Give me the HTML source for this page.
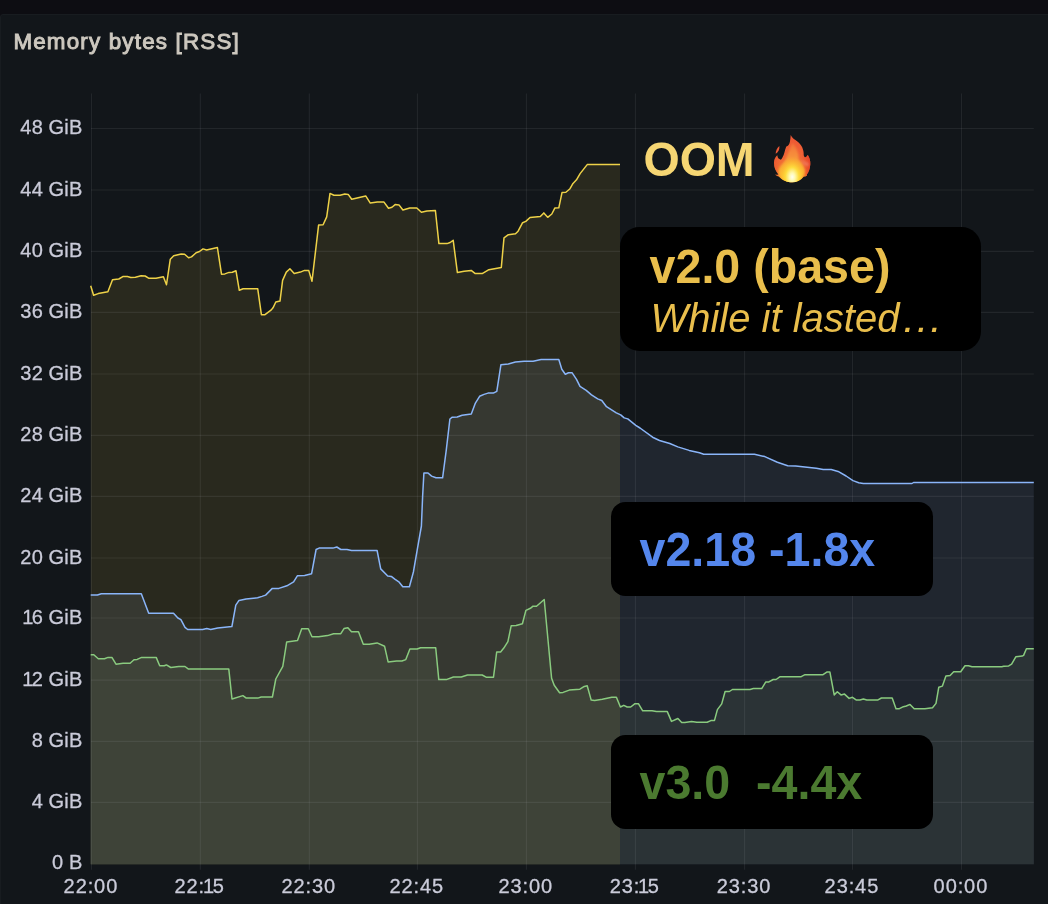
<!DOCTYPE html>
<html lang="en"><head><meta charset="utf-8"><title>Memory bytes [RSS]</title>
<style>
html,body{margin:0;padding:0;}
body{width:1048px;height:904px;overflow:hidden;background:#0d0d12;font-family:"Liberation Sans",sans-serif;position:relative;}
.panel{position:absolute;left:0;top:14px;width:1060px;height:900px;background:#12161a;border:1.2px solid #181c20;border-radius:3px 0 0 0;box-sizing:border-box;}
.chart{position:absolute;left:0;top:0;}
.title{position:absolute;left:13.4px;top:28.3px;font-size:22.4px;line-height:28px;font-weight:normal;color:#cdc8bf;white-space:nowrap;letter-spacing:1.18px;-webkit-text-stroke:0.95px #cdc8bf;}
.yl{position:absolute;right:965.6px;letter-spacing:0.15px;-webkit-text-stroke:0.3px #cacbd9;font-size:20px;line-height:20px;height:20px;color:#cacbd9;white-space:nowrap;text-align:right;}
.xl{position:absolute;top:876px;width:80px;margin-left:-40px;text-align:center;font-size:20px;line-height:20px;color:#cacbd9;white-space:nowrap;letter-spacing:0.9px;-webkit-text-stroke:0.3px #cacbd9;}
.yl .n1{margin:0 -1.8px;}
.xl .n1{margin:0 -2.2px;}
.box{position:absolute;background:#000;box-sizing:border-box;}
.t{position:absolute;white-space:nowrap;font-weight:bold;font-size:46px;line-height:46px;}
.flame{position:absolute;left:762px;top:126px;}
</style></head><body>
<div class="panel"></div>

<svg class="chart" width="1048" height="904" viewBox="0 0 1048 904">
<defs><clipPath id="cl"><rect x="0" y="0" width="620.1" height="904"/></clipPath><clipPath id="cr"><rect x="620.1" y="0" width="428" height="904"/></clipPath></defs>
<polygon points="90.7,864.2 90.7,285.8 93.6,295.3 98.2,293.6 107.9,291.8 112.5,279.8 118.8,279.0 122.8,276.6 127.4,276.6 130.8,277.4 135.4,277.2 141.1,275.8 145.1,276.0 148.6,278.2 156.0,278.2 163.4,276.7 166.5,284.7 170.3,259.2 173.7,255.8 181.2,254.0 184.6,254.3 188.6,257.8 191.5,256.9 196.1,252.7 199.5,251.5 203.0,248.9 206.6,250.0 217.4,247.5 221.5,274.2 224.9,273.9 229.0,272.4 232.3,272.3 236.0,270.8 239.3,290.3 243.1,288.7 257.7,288.7 261.4,314.7 265.0,314.7 271.3,309.9 273.0,307.8 275.8,302.0 280.0,301.1 282.6,280.4 286.3,272.1 289.9,268.8 294.2,273.4 300.4,272.1 304.5,270.4 308.7,270.4 312.0,281.2 318.6,225.1 323.1,224.8 326.7,216.9 330.0,193.4 333.9,195.2 340.1,195.2 344.8,194.1 348.2,194.4 351.7,199.2 365.7,195.9 370.3,203.1 377.3,202.1 384.0,202.1 388.5,208.3 392.0,207.2 395.1,204.6 399.0,204.9 402.9,210.0 409.8,208.0 416.8,208.0 421.4,212.2 426.9,211.1 435.4,210.5 438.9,243.6 447.0,243.6 450.1,242.5 453.2,240.3 457.4,272.6 464.1,271.2 471.2,270.4 475.3,273.6 482.2,273.6 488.9,269.7 501.3,267.4 504.0,237.9 508.4,234.7 515.5,233.8 518.1,231.2 522.6,222.7 525.8,221.4 530.0,217.5 540.3,216.6 543.8,212.9 547.7,217.3 551.8,214.0 554.8,208.1 558.8,207.8 562.0,192.6 565.9,192.2 570.0,188.7 573.0,183.4 576.5,179.8 580.1,173.6 587.2,164.6 620.0,164.6 620.0,864.2" fill="#29291e"/>
<polygon points="90.7,864.2 90.7,595.1 97.4,595.0 101.3,593.7 141.3,593.7 148.7,613.2 173.5,613.2 177.9,618.0 180.9,619.7 185.0,627.3 187.7,629.5 202.7,629.5 206.8,628.6 210.7,629.5 217.7,627.9 231.9,626.5 235.8,605.2 239.0,600.4 246.1,599.0 257.6,597.8 262.0,596.4 265.6,595.1 272.3,588.4 278.9,588.4 286.9,585.8 293.6,581.9 297.5,575.7 304.6,575.5 311.6,573.7 316.1,549.5 319.1,548.1 332.9,548.1 336.8,547.0 340.8,549.5 347.0,549.5 351.5,550.5 377.1,550.5 380.7,568.9 387.7,576.0 391.3,576.4 394.8,579.2 399.2,582.2 402.8,586.7 409.4,586.7 413.4,572.0 417.0,551.2 421.4,526.0 422.6,496.8 423.9,473.0 428.0,473.0 431.6,476.1 436.0,477.8 442.6,477.8 446.2,450.6 449.9,419.0 452.3,417.2 457.2,417.0 462.1,415.3 471.3,414.1 475.4,403.1 479.6,396.3 484.0,394.4 488.0,393.1 493.3,393.1 496.8,391.3 500.9,364.8 508.3,363.9 515.4,362.1 524.2,361.2 533.1,361.2 541.1,359.5 558.8,359.5 561.8,369.2 565.3,374.2 568.5,372.7 572.0,372.7 576.5,379.3 580.0,386.4 586.2,390.4 591.5,394.9 597.7,398.9 601.8,400.5 606.5,406.7 616.3,412.9 620.7,414.9 624.2,417.9 627.8,418.9 635.8,425.3 640.0,428.0 652.6,437.2 659.5,440.5 669.8,443.5 677.8,446.9 689.2,450.4 699.5,452.7 703.7,454.3 754.5,454.3 764.8,456.6 777.4,462.3 787.7,465.7 795.7,465.9 816.3,468.2 823.2,469.6 831.2,469.6 838.1,471.4 846.1,476.0 853.0,480.6 858.7,482.7 863.3,483.5 912.0,483.5 913.5,482.5 1033.8,482.5 1033.8,864.2" fill="#363831" clip-path="url(#cl)"/>
<polygon points="90.7,864.2 90.7,595.1 97.4,595.0 101.3,593.7 141.3,593.7 148.7,613.2 173.5,613.2 177.9,618.0 180.9,619.7 185.0,627.3 187.7,629.5 202.7,629.5 206.8,628.6 210.7,629.5 217.7,627.9 231.9,626.5 235.8,605.2 239.0,600.4 246.1,599.0 257.6,597.8 262.0,596.4 265.6,595.1 272.3,588.4 278.9,588.4 286.9,585.8 293.6,581.9 297.5,575.7 304.6,575.5 311.6,573.7 316.1,549.5 319.1,548.1 332.9,548.1 336.8,547.0 340.8,549.5 347.0,549.5 351.5,550.5 377.1,550.5 380.7,568.9 387.7,576.0 391.3,576.4 394.8,579.2 399.2,582.2 402.8,586.7 409.4,586.7 413.4,572.0 417.0,551.2 421.4,526.0 422.6,496.8 423.9,473.0 428.0,473.0 431.6,476.1 436.0,477.8 442.6,477.8 446.2,450.6 449.9,419.0 452.3,417.2 457.2,417.0 462.1,415.3 471.3,414.1 475.4,403.1 479.6,396.3 484.0,394.4 488.0,393.1 493.3,393.1 496.8,391.3 500.9,364.8 508.3,363.9 515.4,362.1 524.2,361.2 533.1,361.2 541.1,359.5 558.8,359.5 561.8,369.2 565.3,374.2 568.5,372.7 572.0,372.7 576.5,379.3 580.0,386.4 586.2,390.4 591.5,394.9 597.7,398.9 601.8,400.5 606.5,406.7 616.3,412.9 620.7,414.9 624.2,417.9 627.8,418.9 635.8,425.3 640.0,428.0 652.6,437.2 659.5,440.5 669.8,443.5 677.8,446.9 689.2,450.4 699.5,452.7 703.7,454.3 754.5,454.3 764.8,456.6 777.4,462.3 787.7,465.7 795.7,465.9 816.3,468.2 823.2,469.6 831.2,469.6 838.1,471.4 846.1,476.0 853.0,480.6 858.7,482.7 863.3,483.5 912.0,483.5 913.5,482.5 1033.8,482.5 1033.8,864.2" fill="#20262f" clip-path="url(#cr)"/>
<polygon points="90.7,864.2 90.7,654.8 93.8,654.8 98.3,658.7 104.5,658.7 108.0,657.4 111.9,657.4 116.0,664.2 123.1,663.3 130.1,663.3 134.0,659.7 137.2,659.4 141.6,657.4 156.2,657.4 159.7,665.8 164.3,665.8 166.4,664.9 170.8,667.5 178.8,666.5 185.0,666.5 188.5,669.1 228.8,669.1 232.0,699.0 242.9,695.6 246.3,698.1 257.8,698.1 261.2,697.0 272.4,697.0 275.8,679.0 282.8,666.4 286.7,641.9 297.5,640.6 301.7,628.8 308.3,628.8 312.0,636.8 318.6,636.8 327.6,635.6 333.6,633.7 340.8,633.7 344.0,628.6 347.9,627.7 351.5,631.8 358.5,631.8 363.3,644.2 369.2,644.2 377.1,642.9 384.6,646.3 388.1,661.9 396.6,661.0 401.9,661.0 405.8,659.6 409.9,649.1 414.3,648.9 417.1,649.0 420.6,647.8 435.7,647.8 438.8,679.6 446.3,679.6 453.4,677.0 461.3,677.0 467.5,675.0 482.2,675.0 486.1,677.2 493.5,677.2 496.7,652.0 500.6,652.0 503.8,648.1 507.9,641.6 511.2,625.7 516.2,625.5 522.4,623.7 525.9,610.4 530.4,608.3 533.0,606.2 536.5,606.2 544.2,599.5 551.6,678.2 554.2,685.3 559.6,692.7 563.1,692.4 569.3,690.1 579.9,689.2 584.3,686.4 587.2,685.8 591.2,700.1 594.6,700.5 602.3,699.3 611.8,697.2 616.4,697.2 620.4,707.0 623.8,705.3 627.2,707.0 630.7,707.0 635.0,703.7 638.4,703.7 642.7,710.8 652.1,710.8 656.4,711.6 667.3,711.6 671.5,721.4 677.9,718.5 681.7,722.4 684.8,722.4 691.6,721.4 696.8,722.3 707.1,722.3 711.4,720.4 714.5,720.4 717.4,709.6 721.7,703.9 725.1,691.5 729.4,691.5 732.4,689.5 750.0,689.5 753.4,688.6 761.7,688.6 765.8,681.9 768.9,681.9 773.2,679.5 776.1,679.5 780.1,676.7 801.2,676.7 805.0,674.7 823.0,674.7 826.8,672.1 829.9,672.1 834.2,694.9 837.3,691.8 841.0,694.9 844.5,694.1 849.1,698.4 852.5,697.3 856.1,699.9 859.9,699.9 863.4,699.0 866.8,699.9 878.0,699.9 881.4,698.0 892.2,698.0 896.0,708.7 899.4,708.7 903.4,706.7 906.3,706.0 910.0,704.4 914.2,708.7 924.9,708.7 932.5,707.7 936.0,703.4 938.8,687.2 942.4,686.1 945.9,675.9 950.1,675.5 953.7,671.7 960.7,671.7 965.0,665.7 968.5,665.7 972.0,666.7 1001.7,666.7 1003.8,666.2 1008.7,665.9 1011.6,664.2 1015.8,656.8 1022.2,656.1 1023.6,655.4 1026.4,648.8 1033.8,648.8 1033.8,864.2" fill="#3e4338" clip-path="url(#cl)"/>
<polygon points="90.7,864.2 90.7,654.8 93.8,654.8 98.3,658.7 104.5,658.7 108.0,657.4 111.9,657.4 116.0,664.2 123.1,663.3 130.1,663.3 134.0,659.7 137.2,659.4 141.6,657.4 156.2,657.4 159.7,665.8 164.3,665.8 166.4,664.9 170.8,667.5 178.8,666.5 185.0,666.5 188.5,669.1 228.8,669.1 232.0,699.0 242.9,695.6 246.3,698.1 257.8,698.1 261.2,697.0 272.4,697.0 275.8,679.0 282.8,666.4 286.7,641.9 297.5,640.6 301.7,628.8 308.3,628.8 312.0,636.8 318.6,636.8 327.6,635.6 333.6,633.7 340.8,633.7 344.0,628.6 347.9,627.7 351.5,631.8 358.5,631.8 363.3,644.2 369.2,644.2 377.1,642.9 384.6,646.3 388.1,661.9 396.6,661.0 401.9,661.0 405.8,659.6 409.9,649.1 414.3,648.9 417.1,649.0 420.6,647.8 435.7,647.8 438.8,679.6 446.3,679.6 453.4,677.0 461.3,677.0 467.5,675.0 482.2,675.0 486.1,677.2 493.5,677.2 496.7,652.0 500.6,652.0 503.8,648.1 507.9,641.6 511.2,625.7 516.2,625.5 522.4,623.7 525.9,610.4 530.4,608.3 533.0,606.2 536.5,606.2 544.2,599.5 551.6,678.2 554.2,685.3 559.6,692.7 563.1,692.4 569.3,690.1 579.9,689.2 584.3,686.4 587.2,685.8 591.2,700.1 594.6,700.5 602.3,699.3 611.8,697.2 616.4,697.2 620.4,707.0 623.8,705.3 627.2,707.0 630.7,707.0 635.0,703.7 638.4,703.7 642.7,710.8 652.1,710.8 656.4,711.6 667.3,711.6 671.5,721.4 677.9,718.5 681.7,722.4 684.8,722.4 691.6,721.4 696.8,722.3 707.1,722.3 711.4,720.4 714.5,720.4 717.4,709.6 721.7,703.9 725.1,691.5 729.4,691.5 732.4,689.5 750.0,689.5 753.4,688.6 761.7,688.6 765.8,681.9 768.9,681.9 773.2,679.5 776.1,679.5 780.1,676.7 801.2,676.7 805.0,674.7 823.0,674.7 826.8,672.1 829.9,672.1 834.2,694.9 837.3,691.8 841.0,694.9 844.5,694.1 849.1,698.4 852.5,697.3 856.1,699.9 859.9,699.9 863.4,699.0 866.8,699.9 878.0,699.9 881.4,698.0 892.2,698.0 896.0,708.7 899.4,708.7 903.4,706.7 906.3,706.0 910.0,704.4 914.2,708.7 924.9,708.7 932.5,707.7 936.0,703.4 938.8,687.2 942.4,686.1 945.9,675.9 950.1,675.5 953.7,671.7 960.7,671.7 965.0,665.7 968.5,665.7 972.0,666.7 1001.7,666.7 1003.8,666.2 1008.7,665.9 1011.6,664.2 1015.8,656.8 1022.2,656.1 1023.6,655.4 1026.4,648.8 1033.8,648.8 1033.8,864.2" fill="#2b3336" clip-path="url(#cr)"/>
<g stroke="rgba(204,204,220,0.085)" stroke-width="1.1" fill="none"><line x1="91.50" y1="93.6" x2="91.50" y2="869.8"/><line x1="200.30" y1="93.6" x2="200.30" y2="869.8"/><line x1="309.30" y1="93.6" x2="309.30" y2="869.8"/><line x1="417.40" y1="93.6" x2="417.40" y2="869.8"/><line x1="526.40" y1="93.6" x2="526.40" y2="869.8"/><line x1="635.40" y1="93.6" x2="635.40" y2="869.8"/><line x1="744.60" y1="93.6" x2="744.60" y2="869.8"/><line x1="852.50" y1="93.6" x2="852.50" y2="869.8"/><line x1="961.50" y1="93.6" x2="961.50" y2="869.8"/><line x1="90.9" y1="802.35" x2="1033.8" y2="802.35"/><line x1="90.9" y1="741.40" x2="1033.8" y2="741.40"/><line x1="90.9" y1="680.15" x2="1033.8" y2="680.15"/><line x1="90.9" y1="618.05" x2="1033.8" y2="618.05"/><line x1="90.9" y1="558.05" x2="1033.8" y2="558.05"/><line x1="90.9" y1="496.40" x2="1033.8" y2="496.40"/><line x1="90.9" y1="435.40" x2="1033.8" y2="435.40"/><line x1="90.9" y1="374.00" x2="1033.8" y2="374.00"/><line x1="90.9" y1="312.40" x2="1033.8" y2="312.40"/><line x1="90.9" y1="251.35" x2="1033.8" y2="251.35"/><line x1="90.9" y1="189.95" x2="1033.8" y2="189.95"/><line x1="90.9" y1="128.45" x2="1033.8" y2="128.45"/></g>
<polyline points="90.7,285.8 93.6,295.3 98.2,293.6 107.9,291.8 112.5,279.8 118.8,279.0 122.8,276.6 127.4,276.6 130.8,277.4 135.4,277.2 141.1,275.8 145.1,276.0 148.6,278.2 156.0,278.2 163.4,276.7 166.5,284.7 170.3,259.2 173.7,255.8 181.2,254.0 184.6,254.3 188.6,257.8 191.5,256.9 196.1,252.7 199.5,251.5 203.0,248.9 206.6,250.0 217.4,247.5 221.5,274.2 224.9,273.9 229.0,272.4 232.3,272.3 236.0,270.8 239.3,290.3 243.1,288.7 257.7,288.7 261.4,314.7 265.0,314.7 271.3,309.9 273.0,307.8 275.8,302.0 280.0,301.1 282.6,280.4 286.3,272.1 289.9,268.8 294.2,273.4 300.4,272.1 304.5,270.4 308.7,270.4 312.0,281.2 318.6,225.1 323.1,224.8 326.7,216.9 330.0,193.4 333.9,195.2 340.1,195.2 344.8,194.1 348.2,194.4 351.7,199.2 365.7,195.9 370.3,203.1 377.3,202.1 384.0,202.1 388.5,208.3 392.0,207.2 395.1,204.6 399.0,204.9 402.9,210.0 409.8,208.0 416.8,208.0 421.4,212.2 426.9,211.1 435.4,210.5 438.9,243.6 447.0,243.6 450.1,242.5 453.2,240.3 457.4,272.6 464.1,271.2 471.2,270.4 475.3,273.6 482.2,273.6 488.9,269.7 501.3,267.4 504.0,237.9 508.4,234.7 515.5,233.8 518.1,231.2 522.6,222.7 525.8,221.4 530.0,217.5 540.3,216.6 543.8,212.9 547.7,217.3 551.8,214.0 554.8,208.1 558.8,207.8 562.0,192.6 565.9,192.2 570.0,188.7 573.0,183.4 576.5,179.8 580.1,173.6 587.2,164.6 620.0,164.6" fill="none" stroke="#eed248" stroke-width="1.5" stroke-linejoin="round" stroke-linecap="butt"/>
<polyline points="90.7,595.1 97.4,595.0 101.3,593.7 141.3,593.7 148.7,613.2 173.5,613.2 177.9,618.0 180.9,619.7 185.0,627.3 187.7,629.5 202.7,629.5 206.8,628.6 210.7,629.5 217.7,627.9 231.9,626.5 235.8,605.2 239.0,600.4 246.1,599.0 257.6,597.8 262.0,596.4 265.6,595.1 272.3,588.4 278.9,588.4 286.9,585.8 293.6,581.9 297.5,575.7 304.6,575.5 311.6,573.7 316.1,549.5 319.1,548.1 332.9,548.1 336.8,547.0 340.8,549.5 347.0,549.5 351.5,550.5 377.1,550.5 380.7,568.9 387.7,576.0 391.3,576.4 394.8,579.2 399.2,582.2 402.8,586.7 409.4,586.7 413.4,572.0 417.0,551.2 421.4,526.0 422.6,496.8 423.9,473.0 428.0,473.0 431.6,476.1 436.0,477.8 442.6,477.8 446.2,450.6 449.9,419.0 452.3,417.2 457.2,417.0 462.1,415.3 471.3,414.1 475.4,403.1 479.6,396.3 484.0,394.4 488.0,393.1 493.3,393.1 496.8,391.3 500.9,364.8 508.3,363.9 515.4,362.1 524.2,361.2 533.1,361.2 541.1,359.5 558.8,359.5 561.8,369.2 565.3,374.2 568.5,372.7 572.0,372.7 576.5,379.3 580.0,386.4 586.2,390.4 591.5,394.9 597.7,398.9 601.8,400.5 606.5,406.7 616.3,412.9 620.7,414.9 624.2,417.9 627.8,418.9 635.8,425.3 640.0,428.0 652.6,437.2 659.5,440.5 669.8,443.5 677.8,446.9 689.2,450.4 699.5,452.7 703.7,454.3 754.5,454.3 764.8,456.6 777.4,462.3 787.7,465.7 795.7,465.9 816.3,468.2 823.2,469.6 831.2,469.6 838.1,471.4 846.1,476.0 853.0,480.6 858.7,482.7 863.3,483.5 912.0,483.5 913.5,482.5 1033.8,482.5" fill="none" stroke="#8ab5f9" stroke-width="1.5" stroke-linejoin="round" stroke-linecap="butt"/>
<polyline points="90.7,654.8 93.8,654.8 98.3,658.7 104.5,658.7 108.0,657.4 111.9,657.4 116.0,664.2 123.1,663.3 130.1,663.3 134.0,659.7 137.2,659.4 141.6,657.4 156.2,657.4 159.7,665.8 164.3,665.8 166.4,664.9 170.8,667.5 178.8,666.5 185.0,666.5 188.5,669.1 228.8,669.1 232.0,699.0 242.9,695.6 246.3,698.1 257.8,698.1 261.2,697.0 272.4,697.0 275.8,679.0 282.8,666.4 286.7,641.9 297.5,640.6 301.7,628.8 308.3,628.8 312.0,636.8 318.6,636.8 327.6,635.6 333.6,633.7 340.8,633.7 344.0,628.6 347.9,627.7 351.5,631.8 358.5,631.8 363.3,644.2 369.2,644.2 377.1,642.9 384.6,646.3 388.1,661.9 396.6,661.0 401.9,661.0 405.8,659.6 409.9,649.1 414.3,648.9 417.1,649.0 420.6,647.8 435.7,647.8 438.8,679.6 446.3,679.6 453.4,677.0 461.3,677.0 467.5,675.0 482.2,675.0 486.1,677.2 493.5,677.2 496.7,652.0 500.6,652.0 503.8,648.1 507.9,641.6 511.2,625.7 516.2,625.5 522.4,623.7 525.9,610.4 530.4,608.3 533.0,606.2 536.5,606.2 544.2,599.5 551.6,678.2 554.2,685.3 559.6,692.7 563.1,692.4 569.3,690.1 579.9,689.2 584.3,686.4 587.2,685.8 591.2,700.1 594.6,700.5 602.3,699.3 611.8,697.2 616.4,697.2 620.4,707.0 623.8,705.3 627.2,707.0 630.7,707.0 635.0,703.7 638.4,703.7 642.7,710.8 652.1,710.8 656.4,711.6 667.3,711.6 671.5,721.4 677.9,718.5 681.7,722.4 684.8,722.4 691.6,721.4 696.8,722.3 707.1,722.3 711.4,720.4 714.5,720.4 717.4,709.6 721.7,703.9 725.1,691.5 729.4,691.5 732.4,689.5 750.0,689.5 753.4,688.6 761.7,688.6 765.8,681.9 768.9,681.9 773.2,679.5 776.1,679.5 780.1,676.7 801.2,676.7 805.0,674.7 823.0,674.7 826.8,672.1 829.9,672.1 834.2,694.9 837.3,691.8 841.0,694.9 844.5,694.1 849.1,698.4 852.5,697.3 856.1,699.9 859.9,699.9 863.4,699.0 866.8,699.9 878.0,699.9 881.4,698.0 892.2,698.0 896.0,708.7 899.4,708.7 903.4,706.7 906.3,706.0 910.0,704.4 914.2,708.7 924.9,708.7 932.5,707.7 936.0,703.4 938.8,687.2 942.4,686.1 945.9,675.9 950.1,675.5 953.7,671.7 960.7,671.7 965.0,665.7 968.5,665.7 972.0,666.7 1001.7,666.7 1003.8,666.2 1008.7,665.9 1011.6,664.2 1015.8,656.8 1022.2,656.1 1023.6,655.4 1026.4,648.8 1033.8,648.8" fill="none" stroke="#8acb7f" stroke-width="1.5" stroke-linejoin="round" stroke-linecap="butt"/>
</svg>
<div class="title">Memory bytes [RSS]</div>
<div class="yl" style="top:852px">0 B</div>
<div class="yl" style="top:791px">4 GiB</div>
<div class="yl" style="top:730px">8 GiB</div>
<div class="yl" style="top:669px"><span class="n1">1</span>2 GiB</div>
<div class="yl" style="top:607px"><span class="n1">1</span>6 GiB</div>
<div class="yl" style="top:547px">20 GiB</div>
<div class="yl" style="top:485px">24 GiB</div>
<div class="yl" style="top:424px">28 GiB</div>
<div class="yl" style="top:363px">32 GiB</div>
<div class="yl" style="top:301px">36 GiB</div>
<div class="yl" style="top:240px">40 GiB</div>
<div class="yl" style="top:179px">44 GiB</div>
<div class="yl" style="top:117px">48 GiB</div>
<div class="xl" style="left:90.9px">22:00</div>
<div class="xl" style="left:199.7px">22:<span class="n1">1</span>5</div>
<div class="xl" style="left:308.7px">22:30</div>
<div class="xl" style="left:416.8px">22:45</div>
<div class="xl" style="left:525.8px">23:00</div>
<div class="xl" style="left:634.8px">23:<span class="n1">1</span>5</div>
<div class="xl" style="left:744.0px">23:30</div>
<div class="xl" style="left:851.9px">23:45</div>
<div class="xl" style="left:960.9px">00:00</div>
<div class="t" style="left:643.4px;top:137px;font-size:46.6px;line-height:46.6px;color:#f6d673;transform-origin:0 39.30px;transform:translateY(-0.30px) scaleY(1.04);">OOM</div>
<svg class="flame" width="60" height="64" viewBox="0 0 60 64">
<defs>
<linearGradient id="fo" x1="0" y1="0" x2="0" y2="1"><stop offset="0" stop-color="#ee5634"/><stop offset="0.5" stop-color="#f06636"/><stop offset="1" stop-color="#f4842e"/></linearGradient>
<linearGradient id="fm" x1="0" y1="0" x2="0" y2="1"><stop offset="0" stop-color="#f3733a"/><stop offset="0.4" stop-color="#f8973a"/><stop offset="0.75" stop-color="#fcb933"/><stop offset="1" stop-color="#fdc52e"/></linearGradient>
<radialGradient id="fg" cx="30.2" cy="51" r="17" gradientUnits="userSpaceOnUse" gradientTransform="translate(30.2 51) scale(0.82 1.2) translate(-30.2 -51)"><stop offset="0" stop-color="#fffef0"/><stop offset="0.2" stop-color="#fff9b0"/><stop offset="0.48" stop-color="#fedd3e" stop-opacity="0.97"/><stop offset="0.78" stop-color="#fcc030" stop-opacity="0.5"/><stop offset="1" stop-color="#fbb030" stop-opacity="0"/></radialGradient>
<linearGradient id="fr" x1="0" y1="0" x2="1" y2="0"><stop offset="0" stop-color="#ea4a2c" stop-opacity="0.7"/><stop offset="0.2" stop-color="#ea4a2c" stop-opacity="0"/><stop offset="0.74" stop-color="#e63a26" stop-opacity="0"/><stop offset="1" stop-color="#e03322" stop-opacity="0.95"/></linearGradient>
<filter id="fb" x="-20%" y="-20%" width="140%" height="140%"><feGaussianBlur stdDeviation="0.8"/></filter>
<clipPath id="fc"><path d="M28.7 9 C30 12 32.8 13.6 35.4 15.4 C39.6 18.6 41.9 23.2 41.7 29.2 C42 30.6 42.7 31.3 43.4 31.2 C44.6 30.7 45.4 29.8 45.7 28.8 C47.6 31.6 48.5 35 48.3 38.2 C48.1 42.2 46.8 45.8 44.9 48.6 C45.3 49.2 45 49.8 44.4 50 C43.6 50.4 42.7 50.5 41.8 50.5 C38.9 54.2 34.9 56.3 30.3 56.3 C25 56.3 20.2 54 16.8 50.4 C15.5 50.2 14.2 49.5 13.1 48.4 C14.3 48.8 15.4 48.8 16.4 48.4 C13.5 45.2 11.9 41.2 12 36.8 C12.1 33.8 13.3 31.2 15.3 29.3 C15.3 31.5 16.6 33.3 18.9 33.7 C20.3 32.2 21.5 29.8 22.3 27 C22.9 24.6 23.5 22.4 24.3 20.6 C25.2 20.4 26 19.8 26.6 18.9 C27.2 18.2 27.7 17.2 27.9 15.8 C28.3 13.8 28.6 11.6 28.7 9 Z"/></clipPath>
</defs>
<path d="M28.7 9 C30 12 32.8 13.6 35.4 15.4 C39.6 18.6 41.9 23.2 41.7 29.2 C42 30.6 42.7 31.3 43.4 31.2 C44.6 30.7 45.4 29.8 45.7 28.8 C47.6 31.6 48.5 35 48.3 38.2 C48.1 42.2 46.8 45.8 44.9 48.6 C45.3 49.2 45 49.8 44.4 50 C43.6 50.4 42.7 50.5 41.8 50.5 C38.9 54.2 34.9 56.3 30.3 56.3 C25 56.3 20.2 54 16.8 50.4 C15.5 50.2 14.2 49.5 13.1 48.4 C14.3 48.8 15.4 48.8 16.4 48.4 C13.5 45.2 11.9 41.2 12 36.8 C12.1 33.8 13.3 31.2 15.3 29.3 C15.3 31.5 16.6 33.3 18.9 33.7 C20.3 32.2 21.5 29.8 22.3 27 C22.9 24.6 23.5 22.4 24.3 20.6 C25.2 20.4 26 19.8 26.6 18.9 C27.2 18.2 27.7 17.2 27.9 15.8 C28.3 13.8 28.6 11.6 28.7 9 Z" fill="url(#fo)"/>
<g clip-path="url(#fc)">
<rect x="10" y="8" width="40" height="50" fill="url(#fr)"/>
<path d="M39.5 33.5 C41.5 35 44 36 46.5 36.5 L47 40 C44 40.5 41.5 39.5 39.8 37.5 Z" fill="#f07a5e" opacity="0.75" filter="url(#fb)"/>
<path d="M30.6 17 C34.3 21.5 36.9 27 36.7 33.3 C38.6 36.3 41.6 39 42.6 43.5 C43.2 48 40 53.5 30.5 57.5 C20.5 56 16 50.5 16.8 44 C17.4 40.5 20.3 38.8 22.6 35.3 C25.3 30.8 27 23.5 30.6 17 Z" fill="url(#fm)" filter="url(#fb)"/>
<ellipse cx="30.2" cy="51" rx="14.5" ry="20.5" fill="url(#fg)"/>
</g>
<path d="M17.4 20 C15.2 21.8 13.5 25.2 13.7 27.8 C16 26.4 17.8 23.4 17.4 20 Z" fill="#ee5a38"/>
</svg>
<div class="box" style="left:619.6px;top:227.1px;width:361px;height:124.4px;border-radius:19.5px;"></div>
<div class="t" style="left:649.6px;top:244px;font-size:46.6px;line-height:46.6px;color:#e9be4c;transform-origin:0 39.30px;transform:translateY(-0.40px) scaleY(1.04);">v2.0 (base)</div>
<div class="t" style="left:650.4px;top:298px;font-size:40.0px;line-height:40.0px;color:#e9be4c;transform-origin:0 34.00px;transform:translateY(-0.20px) scaleY(1.02);font-weight:normal;font-style:italic;">While it lasted<span style="display:inline-block;margin-left:1.7px;transform:scaleX(1.06);transform-origin:0 0;">…</span></div>
<div class="box" style="left:611.2px;top:502.1px;width:321.8px;height:93.7px;border-radius:14.5px;"></div>
<div class="t" style="left:639.5px;top:527px;font-size:46.6px;line-height:46.6px;color:#5486ec;transform-origin:0 39.30px;transform:translateY(-0.30px) scaleY(1.04);">v2.18 -1.8x</div>
<div class="box" style="left:611.2px;top:735.0px;width:321.8px;height:93.8px;border-radius:14.5px;"></div>
<div class="t" style="left:639.5px;top:760px;font-size:46.6px;line-height:46.6px;color:#4b7a30;transform-origin:0 39.30px;transform:translateY(-0.30px) scaleY(1.04);white-space:pre;">v3.0  -4.4x</div>
</body></html>
